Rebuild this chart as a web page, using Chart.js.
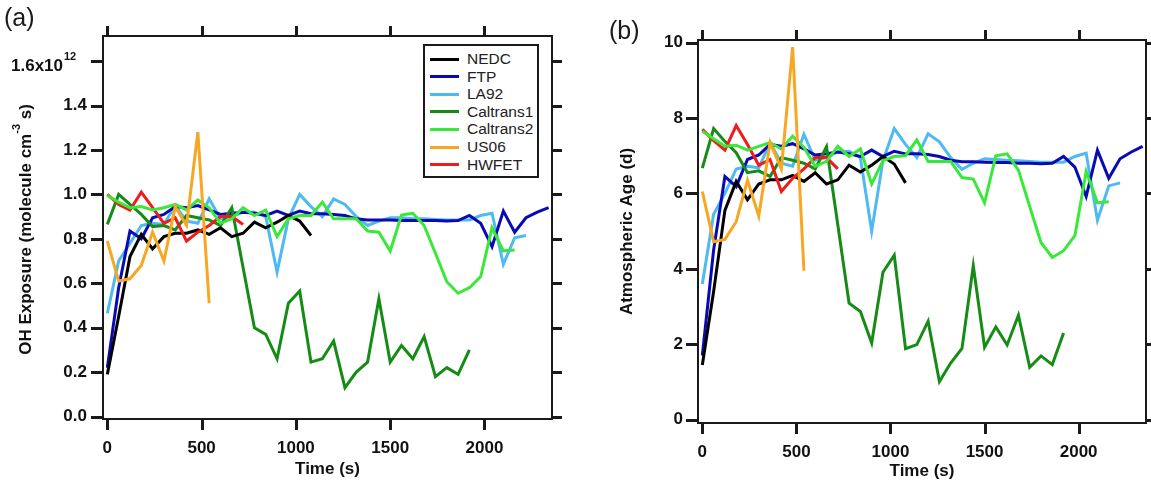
<!DOCTYPE html>
<html>
<head>
<meta charset="utf-8">
<script src="https://cdn.jsdelivr.net/npm/chart.js@4.4.0/dist/chart.umd.min.js"></script>
<style>
  body{ margin:0; background:#fff; font-family:"Liberation Sans", Arial, sans-serif; }
  #wrap{ position:relative; width:1151px; height:482px; overflow:hidden; background:#fff; }
  canvas{ position:absolute; top:0; }
  .tag{ position:absolute; font-size:25px; color:#1a1a1a; }
  #legend{ position:absolute; left:423px; top:44px; width:112px; height:130px; border:2px solid #1a1a1a; background:#fff; z-index:2; }
  #legend .row{ position:absolute; left:5px; height:18px; display:flex; align-items:center; font-size:15.5px; color:#222; white-space:nowrap; }
  #legend .swatch{ width:29px; height:3px; margin-right:8px; }
</style>
</head>
<body>
<div id="wrap">
  <canvas id="chartA" width="580" height="482" style="left:0"></canvas>
  <canvas id="chartB" width="571" height="482" style="left:580px"></canvas>
  <div class="tag" style="left:4px; top:3px">(a)</div>
  <div class="tag" style="left:609px; top:16px">(b)</div>
  <div id="legend"></div>
</div>
<script>
// time base, one point per minute
const times = [0,60,120,180,240,300,360,420,480,540,600,660,720,780,840,900,960,1020,1080,1140,
  1200,1260,1320,1380,1440,1500,1560,1620,1680,1740,1800,1860,1920,1980,2040,2100,2160,2220,2280,2340];

const tickTimes = [0, 500, 1000, 1500, 2000];
const tickTimeLabels = ['0','500','1000','1500','2000'];
const tickExposure = [0, 0.2, 0.4, 0.6, 0.8, 1.0, 1.2, 1.4, 1.6];
const tickExposureLabels = ['0.0','0.2','0.4','0.6','0.8','1.0','1.2','1.4','1.6x10'];
const exposureExponent = '12';
const tickAge = [0, 2, 4, 6, 8, 10];
const tickAgeLabels = ['0','2','4','6','8','10'];

const seriesNames = ['NEDC','FTP','LA92','Caltrans1','Caltrans2','US06','HWFET'];
const seriesColors = ['#000000','#0a0ab4','#4fb9f2','#168c16','#3ae83a','#f7a823','#ee1c1c'];
const drawOrder = [3, 5, 6, 4, 1, 0, 2]; // lower = drawn on top

// (a) OH exposure, units of 1e12 molecule cm-3 s
const nedcExp = [0.19,0.45,0.72,0.82,0.755,0.81,0.825,0.825,0.84,0.82,0.85,0.81,0.825,0.875,0.85,0.875,0.905,0.88,0.815];
const ftpExp = [0.22,0.58,0.835,0.80,0.895,0.91,0.945,0.94,0.95,0.93,0.91,0.915,0.92,0.915,0.905,0.925,0.905,0.925,0.913,0.913,
  0.91,0.905,0.89,0.885,0.885,0.885,0.883,0.883,0.882,0.882,0.88,0.882,0.905,0.87,0.765,0.925,0.83,0.895,0.92,0.94];
const la92Exp = [0.465,0.70,0.78,0.86,0.87,0.865,0.95,0.88,0.87,0.98,0.89,0.90,0.92,0.92,0.90,0.65,0.89,1.0,0.945,0.90,
  0.98,0.955,0.90,0.86,0.88,0.895,0.895,0.89,0.89,0.887,0.885,0.885,0.885,0.905,0.915,0.685,0.805,0.815];
const caltrans1Exp = [0.865,1.0,0.955,0.91,0.855,0.86,0.84,0.905,0.895,0.885,0.86,0.94,0.67,0.40,0.37,0.26,0.51,0.565,0.245,0.26,
  0.34,0.13,0.20,0.245,0.53,0.245,0.32,0.26,0.36,0.18,0.22,0.19,0.30];
const caltrans2Exp = [0.995,0.965,0.94,0.945,0.93,0.94,0.955,0.93,0.975,0.94,0.87,0.89,0.94,0.905,0.93,0.81,0.89,0.905,0.905,0.965,
  0.89,0.89,0.89,0.835,0.83,0.745,0.907,0.915,0.86,0.735,0.607,0.555,0.58,0.63,0.85,0.746,0.75];
const us06Exp = [0.79,0.61,0.62,0.68,0.83,0.70,0.945,0.86,1.28,0.51];
const hwfetExp = [1.0,0.955,0.93,1.01,0.94,0.87,0.895,0.79,0.83,0.86,0.90,0.90,0.865];

// (b) atmospheric age, days
const nedcAge = [1.45,3.4,5.55,6.32,5.83,6.25,6.36,6.36,6.48,6.32,6.55,6.25,6.36,6.75,6.57,6.75,6.98,6.78,6.28];
const ftpAge = [1.7,4.5,6.45,6.18,6.9,7.02,7.3,7.25,7.32,7.18,7.02,7.05,7.1,7.05,6.98,7.15,6.98,7.12,7.05,7.05,
  7.03,6.98,6.88,6.84,6.84,6.83,6.82,6.82,6.8,6.8,6.79,6.8,6.98,6.7,5.92,7.15,6.4,6.92,7.1,7.25];
const la92Age = [3.6,5.45,6.0,6.65,6.72,6.68,7.35,6.8,6.72,7.57,6.88,6.95,7.1,7.12,6.95,5.0,6.87,7.72,7.3,6.95,
  7.58,7.37,6.95,6.64,6.8,6.92,6.9,6.88,6.87,6.85,6.83,6.83,6.83,6.98,7.07,5.29,6.2,6.28];
const caltrans1Age = [6.67,7.72,7.38,7.08,6.55,6.6,6.45,6.95,6.88,6.8,6.65,7.24,5.17,3.09,2.87,2.03,3.91,4.36,1.88,1.99,
  2.61,1.01,1.5,1.89,4.08,1.92,2.46,1.98,2.77,1.39,1.69,1.46,2.3];
const caltrans2Age = [7.65,7.45,7.25,7.28,7.15,7.25,7.35,7.18,7.52,7.22,6.72,6.85,7.25,6.98,7.18,6.25,6.87,6.98,7.0,7.42,
  6.85,6.85,6.85,6.42,6.38,5.75,7.0,7.05,6.62,5.65,4.7,4.3,4.48,4.88,6.58,5.75,5.78];
const us06Age = [6.05,4.72,4.78,5.25,6.35,5.4,7.35,6.65,9.88,3.95];
const hwfetAge = [7.7,7.4,7.15,7.8,7.3,6.75,6.9,6.05,6.4,6.65,6.95,6.95,6.65];

Chart.defaults.font.family = '"Liberation Sans", Arial, sans-serif';
Chart.defaults.color = '#111';

const FONT = '"Liberation Sans", Arial, sans-serif';

function makeDatasets(lists){
  return seriesNames.map((name, k) => ({
    label: name,
    data: lists[k].map((v, i) => ({ x: times[i], y: v })),
    borderColor: seriesColors[k],
    backgroundColor: seriesColors[k],
    borderWidth: 3,
    pointRadius: 0,
    tension: 0,
    order: drawOrder[k],
    xAxisID: 'x',
    yAxisID: 'y',
  }));
}

function boxSize(size){
  return function(scale){ if(scale.isHorizontal()) scale.height = size; else scale.width = size; };
}
function fixedTicks(values){
  return function(scale){ scale.ticks = values.map(v => ({ value: v })); };
}
const frameBorder = { display:true, color:'#1a1a1a', width:2 };

// builds the 4 framed axes (Igor style: ticks on all sides, labels left/bottom)
function makeScales(cfg){
  return {
    x: {
      type:'linear', position:'bottom', min:cfg.xMin, max:cfg.xMax,
      afterBuildTicks: fixedTicks(tickTimes), afterFit: boxSize(cfg.bottom),
      grid: { display:false, drawTicks:true, tickLength:11 }, border: frameBorder,
      ticks: { padding:cfg.xPad, maxRotation:0, font:{ size:17, weight:'bold' }, color:'#111',
        callback: (v) => { const i = tickTimes.indexOf(v); return i < 0 ? '' : tickTimeLabels[i]; } },
      title: { display:true, text:'Time (s)', font:{ size:17, weight:'bold' }, color:'#111', padding:{ top:0, bottom:cfg.titlePadX } },
    },
    xTop: {
      axis:'x', type:'linear', position:'top', min:cfg.xMin, max:cfg.xMax,
      afterBuildTicks: fixedTicks(tickTimes), afterFit: boxSize(cfg.top),
      grid: { display:false }, border: frameBorder, ticks: { display:false },
    },
    y: {
      type:'linear', position:'left', min:cfg.yMin, max:cfg.yMax,
      afterBuildTicks: fixedTicks(cfg.ticks), afterFit: boxSize(cfg.left),
      grid: { display:false, drawTicks:true, tickLength:12 }, border: frameBorder,
      ticks: {
        padding:cfg.yPad, font:{ size:17, weight:'bold' }, color:'#111',
        callback: (v) => cfg.labelFor(v),
      },
      title: cfg.yTitle ? { display:true, text:cfg.yTitle, font:{ size:17, weight:'bold' }, color:'#111', padding:{ top:cfg.titlePadY, bottom:0 } } : { display:false },
    },
    yRight: {
      axis:'y', type:'linear', position:'right', min:cfg.yMin, max:cfg.yMax,
      afterBuildTicks: fixedTicks(cfg.ticks), afterFit: boxSize(cfg.right),
      grid: { display:false }, border: frameBorder, ticks: { display:false },
    },
  };
}

// outward tick marks on all four sides of the frame, placed by the scales
const frameTicks = {
  id: 'frameTicks',
  afterDraw(chart){
    const ctx = chart.ctx;
    const a = chart.chartArea;
    const xs = chart.scales.x;
    const ys = chart.scales.yRight;
    const yVals = chart.canvas.id === 'chartA' ? tickExposure : tickAge;
    ctx.save();
    ctx.fillStyle = '#1a1a1a';
    tickTimes.forEach(v => {
      const p = Math.round(xs.getPixelForValue(v));
      ctx.fillRect(p - 1, a.bottom, 3, 11);
      ctx.fillRect(p - 1, a.top - 10, 3, 10);
    });
    yVals.forEach(v => {
      const p = Math.round(ys.getPixelForValue(v));
      ctx.fillRect(a.left - 12, p - 1, 12, 3);
      ctx.fillRect(a.right, p - 1, 10, 3);
    });
    ctx.restore();
  }
};

// panel (a) extras: exponent on top tick label and the rotated axis title with cm^-3
const exposureExtras = {
  id: 'exposureExtras',
  afterDraw(chart){
    const ctx = chart.ctx;
    const ys = chart.scales.yRight;
    const area = chart.chartArea;
    ctx.save();
    ctx.fillStyle = '#111';
    const py = ys.getPixelForValue(tickExposure[tickExposure.length - 1]);
    ctx.font = 'bold 17px ' + FONT;
    ctx.textAlign = 'right'; ctx.textBaseline = 'middle';
    ctx.fillText(tickExposureLabels[tickExposureLabels.length - 1], 63, py + 5);
    ctx.font = 'bold 11px ' + FONT;
    ctx.textAlign = 'left';
    ctx.fillText(exposureExponent, 64, py - 4);

    const parts = [['OH Exposure (molecule cm', 17, 0], ['-3', 11, -9], [' s)', 17, 0]];
    let total = 0;
    parts.forEach(p => { ctx.font = 'bold ' + p[1] + 'px ' + FONT; p.push(ctx.measureText(p[0]).width); total += p[3]; });
    ctx.translate(26, (area.top + area.bottom) / 2 + 2);
    ctx.rotate(-Math.PI / 2);
    ctx.textAlign = 'left';
    let cx = -total / 2;
    parts.forEach(p => {
      ctx.font = 'bold ' + p[1] + 'px ' + FONT;
      ctx.fillText(p[0], cx, p[2]);
      cx += p[3];
    });
    ctx.restore();
  }
};

new Chart(document.getElementById('chartA'), {
  type: 'line',
  data: { datasets: makeDatasets([nedcExp, ftpExp, la92Exp, caltrans1Exp, caltrans2Exp, us06Exp, hwfetExp]) },
  options: {
    responsive:false, animation:false, devicePixelRatio:1,
    layout: { padding:0 },
    plugins: { legend:{ display:false }, tooltip:{ enabled:false } },
    scales: makeScales({
      xMin:-23, xMax:2358, yMin:-0.011, yMax:1.713, ticks:tickExposure,
      left:103, right:28, top:36, bottom:63, xPad:8, yPad:4, titlePadX:2,
      labelFor: (v) => { const i = tickExposure.indexOf(v); return (i < 0 || i === tickExposure.length - 1) ? '' : tickExposureLabels[i]; },
    }),
  },
  plugins: [frameTicks, exposureExtras],
});

new Chart(document.getElementById('chartB'), {
  type: 'line',
  data: { datasets: makeDatasets([nedcAge, ftpAge, la92Age, caltrans1Age, caltrans2Age, us06Age, hwfetAge]) },
  options: {
    responsive:false, animation:false, devicePixelRatio:1,
    layout: { padding:0 },
    plugins: { legend:{ display:false }, tooltip:{ enabled:false } },
    scales: makeScales({
      xMin:-23, xMax:2358, yMin:-0.09, yMax:10.07, ticks:tickAge,
      left:118, right:5, top:40, bottom:59, xPad:8, yPad:3, titlePadX:0,
      yTitle:'Atmospheric Age (d)', titlePadY:37,
      labelFor: (v) => { const i = tickAge.indexOf(v); return i < 0 ? '' : tickAgeLabels[i]; },
    }),
  },
  plugins: [frameTicks],
});

// legend box inside panel (a)
document.getElementById('legend').innerHTML = seriesNames.map((name, k) =>
  `<div class="row" style="top:${4 + k * 17.6}px"><span class="swatch" style="background:${seriesColors[k]}"></span>${name}</div>`
).join('');
</script>
</body>
</html>
